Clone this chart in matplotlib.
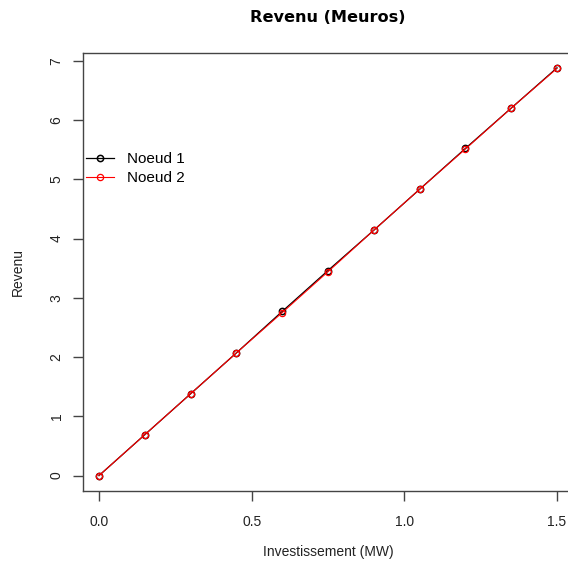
import matplotlib
matplotlib.use("Agg")
import matplotlib.pyplot as plt

plt.rcParams['font.family'] = ['Liberation Sans', 'DejaVu Sans']

invest = [0.0, 0.15, 0.30, 0.45, 0.60, 0.75, 0.90, 1.05, 1.20, 1.35, 1.50]
noeud1 = [0.0, 0.69, 1.38, 2.07, 2.77, 3.46, 4.14, 4.83, 5.52, 6.20, 6.88]
noeud2 = [0.0, 0.69, 1.38, 2.07, 2.75, 3.44, 4.14, 4.83, 5.51, 6.20, 6.87]
xticks = [0.0, 0.5, 1.0, 1.5]
xticklabels = ["0.0", "0.5", "1.0", "1.5"]
yticks = [0, 1, 2, 3, 4, 5, 6, 7]

W = H = 568
fig = plt.figure(figsize=(W / 100, H / 100), dpi=100)
left, right, top, bottom = 83, 573, 53, 491
ax = fig.add_axes([left / W, 1 - bottom / H, (right - left) / W, (bottom - top) / H])

ax.plot(invest, noeud1, color='black', lw=0.9, marker='o', ms=4.5,
        mfc='none', mec='black', mew=1.1, label='Noeud 1')
ax.plot(invest, noeud2, color='red', lw=0.8, marker='o', ms=4.5,
        mfc='none', mec='red', mew=0.9, label='Noeud 2')

ax.set_xlim(-0.0524, 1.5524)
ax.set_ylim(-0.26, 7.13)
ax.set_xticks(xticks)
ax.set_xticklabels(xticklabels)
ax.set_yticks(yticks)
ax.set_yticklabels([str(v) for v in yticks], rotation=90, va='center')

for s in ax.spines.values():
    s.set_color('#444444')
    s.set_linewidth(1.0)
ax.tick_params(axis='both', direction='out', length=7, width=1.0,
               color='#444444', labelsize=10, labelcolor='#222222')
ax.tick_params(axis='x', pad=10)
ax.tick_params(axis='y', pad=7)

ax.set_xlabel('Investissement (MW)', fontsize=10, color='#222222', labelpad=12)
ax.set_ylabel('Revenu', fontsize=10, color='#222222', labelpad=18)
fig.text(328 / W, 1 - 17 / H, 'Revenu (Meuros)', ha='center', va='center',
         fontsize=11.6, fontweight='bold', family=['DejaVu Sans'])

ax.legend(loc='upper left', bbox_to_anchor=(0.0, 0.78), frameon=False,
          fontsize=11, handlelength=1.8, handletextpad=0.9,
          labelspacing=0.3, borderaxespad=0.0, borderpad=0.2)

fig.savefig('out.png', dpi=100)
